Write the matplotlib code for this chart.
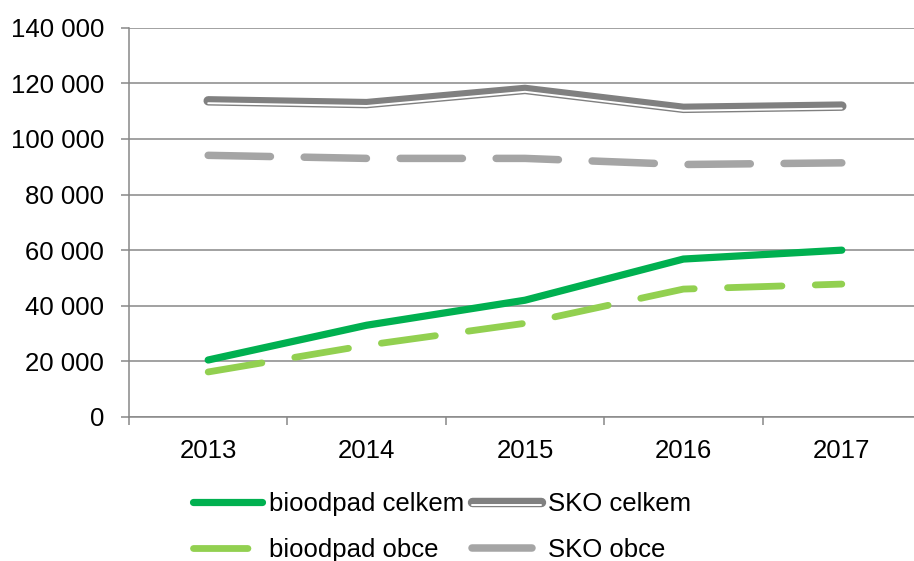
import matplotlib
matplotlib.use("Agg")
import matplotlib.pyplot as plt
import matplotlib.patheffects as pe
from matplotlib.ticker import FuncFormatter, FixedLocator

plt.rcParams["font.family"] = ["Liberation Sans", "DejaVu Sans"]

years = ["2013", "2014", "2015", "2016", "2017"]
bio_celkem = [20500, 33000, 42000, 56800, 60000]
bio_obce = [16200, 25800, 33700, 46000, 47800]
sko_celkem = [113700, 112700, 117800, 111000, 111800]
sko_obce = [94100, 93000, 93000, 90800, 91400]

GRID = "#888888"
FS = 18.5

fig = plt.figure(figsize=(9.14, 5.61), dpi=100)
ax = fig.add_axes([129 / 914, 1 - 417 / 561, 792 / 914, 389.3 / 561])

x = range(len(years))
h_bc, = ax.plot(x, bio_celkem, color="#00b050", lw=5.2, solid_capstyle="round",
                solid_joinstyle="round", label="bioodpad celkem", zorder=4)
h_sc, = ax.plot(x, sko_celkem, color="#808080", lw=6.8, solid_capstyle="round",
                solid_joinstyle="round", label="SKO celkem", zorder=3)
h_sc.set_path_effects([pe.Normal(),
                       pe.Stroke(linewidth=1.4, foreground="white", offset=(0, -1.7))])
h_bo, = ax.plot(x, bio_obce, color="#92d050", lw=4.9, dash_capstyle="round",
                dashes=(8.0, 4.9), label="bioodpad obce", zorder=4)
h_so, = ax.plot(x, sko_obce, color="#a5a5a5", lw=5.4, dash_capstyle="round",
                dashes=(8.3, 4.5), label="SKO obce", zorder=3)

ax.set_xlim(-0.5, 4.5)
ax.set_ylim(0, 140000)
ax.set_yticks(range(0, 140001, 20000))
ax.yaxis.set_major_formatter(FuncFormatter(lambda v, p: f"{int(v):,}".replace(",", " ")))
ax.set_xticks(list(x))
ax.set_xticklabels(years)
ax.xaxis.set_minor_locator(FixedLocator([-0.5, 0.5, 1.5, 2.5, 3.5, 4.5]))

ax.grid(axis="y", color=GRID, lw=1.1)
ax.set_axisbelow(True)
for side in ("top", "right"):
    ax.spines[side].set_visible(False)
for side in ("left", "bottom"):
    ax.spines[side].set_color(GRID)
    ax.spines[side].set_linewidth(1.1)

ax.tick_params(axis="y", length=6, width=1.1, color=GRID, pad=12, labelsize=FS)
ax.tick_params(axis="x", which="major", length=0, pad=15.5, labelsize=FS)
ax.tick_params(axis="x", which="minor", length=6, width=1.1, color=GRID)

# column-first fill: celkem/obce pairs stacked per column
leg = ax.legend([h_bc, h_bo, h_sc, h_so],
                ["bioodpad celkem", "bioodpad obce", "SKO celkem", "SKO obce"],
                loc="upper left", bbox_to_anchor=(64 / 792, -0.193), ncol=2,
                frameon=False, fontsize=FS, handlelength=2.7, handletextpad=0.25,
                columnspacing=0.3, labelspacing=0.85, borderaxespad=0, borderpad=0)
# dashed legend samples show a single dash only, as in the source
for line in leg.get_lines()[1::2]:
    line.set_dashes((8.0, 12.0))

fig.savefig("out.png", dpi=100)
